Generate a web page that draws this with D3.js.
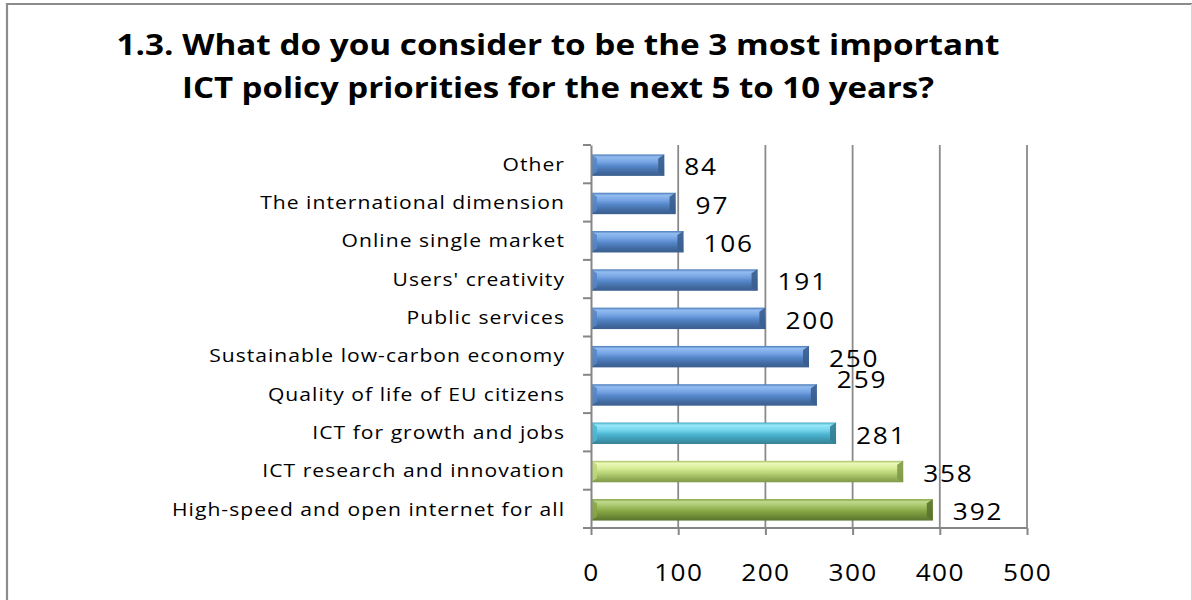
<!DOCTYPE html>
<html>
<head>
<meta charset="utf-8">
<script src="https://cdn.jsdelivr.net/npm/d3@7"></script>
<style>
  html, body { margin: 0; padding: 0; background: #fff; }
  svg { display: block; }
</style>
</head>
<body>
<svg id="chart" width="1192" height="600"></svg>
<script>
// Survey question 1.3 — number of mentions per ICT policy priority
const categories = [
  "Other",
  "The international dimension",
  "Online single market",
  "Users' creativity",
  "Public services",
  "Sustainable low-carbon economy",
  "Quality of life of EU citizens",
  "ICT for growth and jobs",
  "ICT research and innovation",
  "High-speed and open internet for all"
];
const values = [84, 97, 106, 191, 200, 250, 259, 281, 358, 392];
const xTicks = [0, 100, 200, 300, 400, 500];
const titleLines = [
  "1.3. What do you consider to be the 3 most important",
  "ICT policy priorities for the next 5 to 10 years?"
];

const svg = d3.select("#chart");
const FONT = "'Open Sans', 'Noto Sans', sans-serif";
const STRETCH = 1.14; // horizontal stretch applied to the chart's lettering

// Chart frame
svg.append("rect").attr("x", 0).attr("y", 0).attr("width", 1192).attr("height", 600).attr("fill", "#fff");
svg.append("line").attr("x1", 7).attr("x2", 7).attr("y1", 3).attr("y2", 600)
  .attr("stroke", "#8c8c8c").attr("stroke-width", 2.2);
svg.append("line").attr("x1", 6).attr("x2", 1192).attr("y1", 4).attr("y2", 4)
  .attr("stroke", "#8c8c8c").attr("stroke-width", 2.2);
svg.append("line").attr("x1", 1191.5).attr("x2", 1191.5).attr("y1", 4).attr("y2", 600)
  .attr("stroke", "#d4d4d4").attr("stroke-width", 1);

// Title, two centred lines stretched to the title block width
const titleWidths = [883, 752];
titleLines.forEach((t, i) => {
  svg.append("text")
    .attr("font-family", FONT).attr("font-weight", 700).attr("font-size", 28)
    .attr("fill", "#000").attr("text-anchor", "middle")
    .attr("x", 558).attr("y", 55 + i * 43)
    .attr("textLength", titleWidths[i]).attr("lengthAdjust", "spacingAndGlyphs")
    .text(t);
});

// Scales
const x = d3.scaleLinear().domain([0, 500]).range([591, 1027]);
const y = d3.scaleBand().domain(categories).range([145, 528])
  .paddingInner(0.44).paddingOuter(0.22);

// Gradients for the bevelled bar faces
const tones = {
  blue:  ["#4b7bbb", "#93bcf0", "#76a4e4", "#5486c8", "#436ca3", "#3a5e8e"],
  cyan:  ["#3ea7c2", "#98e8f8", "#76d5ec", "#4db6d2", "#3e98b0", "#347f94"],
  lime:  ["#a6c266", "#ecf8b8", "#d6ec96", "#bcd67a", "#98b25c", "#7f9a48"],
  green: ["#7f9d3d", "#c0d98e", "#a2c163", "#87a746", "#6d8a36", "#5a742b"]
};
const stops = [0, 0.12, 0.35, 0.55, 0.8, 1];
const defs = svg.append("defs");
Object.entries(tones).forEach(([name, cols]) => {
  const lg = defs.append("linearGradient").attr("id", "face-" + name)
    .attr("x1", 0).attr("x2", 0).attr("y1", 0).attr("y2", 1);
  cols.forEach((c, i) => lg.append("stop").attr("offset", stops[i]).attr("stop-color", c));
});

function toneFor(cat) {
  if (cat === "High-speed and open internet for all") return "green";
  if (cat === "ICT research and innovation") return "lime";
  if (cat === "ICT for growth and jobs") return "cyan";
  return "blue";
}

// Gridlines
svg.append("g").selectAll("line").data(xTicks.slice(1)).join("line")
  .attr("x1", d => x(d)).attr("x2", d => x(d))
  .attr("y1", y.range()[0]).attr("y2", y.range()[1])
  .attr("stroke", "#8a8a8a").attr("stroke-width", 1.8);

// Bars
const rows = categories.map((c, i) => ({ cat: c, v: values[i] }));
const bars = svg.append("g");
rows.forEach(d => {
  const x0 = x(0), x1 = x(d.v);
  const y0 = y(d.cat) + 1, h = y.bandwidth(), y1 = y0 + h;
  const tone = toneFor(d.cat);
  const cols = tones[tone];
  const b = 6, bv = 4;
  const g = bars.append("g");
  g.append("rect").attr("x", x0).attr("y", y0).attr("width", x1 - x0).attr("height", h)
    .attr("fill", `url(#face-${tone})`);
  // left bevel
  g.append("path")
    .attr("d", `M${x0},${y0}L${x0 + b},${y0 + bv}L${x0 + b},${y1 - bv}L${x0},${y1}Z`)
    .attr("fill", cols[3]).attr("opacity", 0.85);
  // right bevel
  g.append("path")
    .attr("d", `M${x1},${y0}L${x1 - b},${y0 + bv}L${x1 - b},${y1 - bv}L${x1},${y1}Z`)
    .attr("fill", cols[5]).attr("opacity", 0.9);
});

// Value labels
const labelNudge = { "Quality of life of EU citizens": -17 };
svg.append("g").selectAll("text").data(rows).join("text")
  .attr("transform", d =>
    `translate(${x(d.v) + 20},${y(d.cat) + y.bandwidth() / 2 + 3 + (labelNudge[d.cat] || 0)}) scale(${STRETCH},1)`)
  .attr("dy", "0.36em")
  .attr("font-family", FONT).attr("font-size", 23).attr("letter-spacing", "1.6px")
  .attr("fill", "#000")
  .text(d => d.v);

// Category axis with ticks between categories
const yAxis = svg.append("g").attr("transform", `translate(${x(0)},0)`)
  .call(d3.axisLeft(y).tickSize(0).tickPadding(26));
yAxis.select(".domain").attr("stroke", "#868686").attr("stroke-width", 2);
yAxis.selectAll(".tick text")
  .attr("x", 0)
  .attr("transform", `translate(-26,0) scale(${STRETCH},1)`)
  .attr("font-family", FONT).attr("font-size", 18.5).attr("letter-spacing", "0.9px")
  .attr("fill", "#000").attr("dy", "0.36em");
const bounds = categories.map(c => y(c) - y.step() * y.paddingInner() / 2)
  .concat([y.range()[1]]);
yAxis.append("g").selectAll("line").data(bounds).join("line")
  .attr("x1", -8).attr("x2", 0).attr("y1", d => d).attr("y2", d => d)
  .attr("stroke", "#868686").attr("stroke-width", 2);

// Value axis
const xAxis = svg.append("g").attr("transform", `translate(0,${y.range()[1]})`)
  .call(d3.axisBottom(x).tickValues(xTicks).tickSize(7).tickPadding(30).tickSizeOuter(0));
xAxis.select(".domain").attr("stroke", "#868686").attr("stroke-width", 2.2)
  .attr("d", `M${x(0) - 8},0H${x(500)}`);
xAxis.selectAll(".tick line").attr("stroke", "#868686").attr("stroke-width", 2);
xAxis.selectAll(".tick text")
  .attr("transform", `translate(0,37) scale(${STRETCH},1)`)
  .attr("y", 0).attr("dy", "0.71em")
  .attr("font-family", FONT).attr("font-size", 23).attr("letter-spacing", "1.2px")
  .attr("fill", "#000");
</script>
</body>
</html>
